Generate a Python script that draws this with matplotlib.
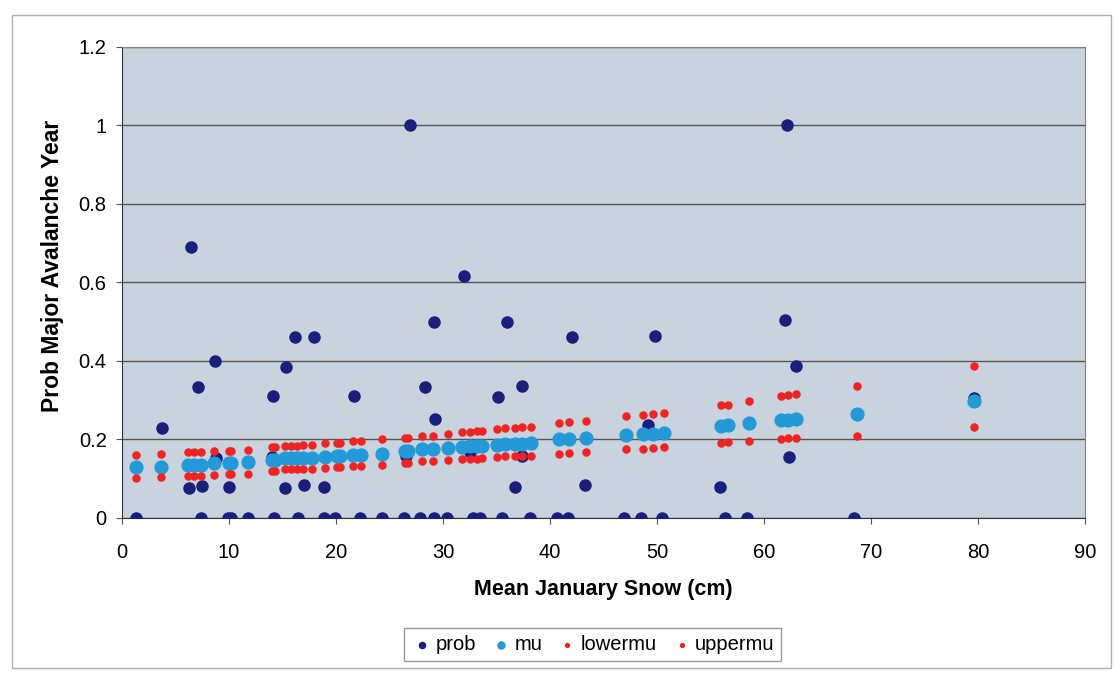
import matplotlib.pyplot as plt
from matplotlib.patches import Rectangle

plt.rcParams['font.family'] = ['Liberation Sans', 'DejaVu Sans']

# observed probability of a major avalanche year at each site
prob_x = [1.31, 7.41, 9.94, 10.23, 11.82, 14.17, 16.42, 18.86, 19.89, 22.23, 24.30, 26.36,
          27.86, 29.18, 30.39, 32.83, 33.49, 35.55, 38.09, 40.62, 41.65, 46.90, 48.50,
          50.47, 56.38, 58.44, 68.39,
          3.75, 6.47, 6.29, 7.13, 7.44, 8.72, 8.82, 10.04, 14.07, 13.98, 15.20, 15.29,
          16.14, 16.98, 17.92, 18.86, 21.67, 26.55, 26.92, 28.33, 29.27, 29.17, 31.99,
          32.55, 35.18, 36.02, 37.43, 37.43, 36.77, 42.03, 43.25, 49.16, 49.81, 55.91,
          62.00, 62.20, 63.04, 62.38, 79.64]
prob_y = [0] * 27 + [
          0.23, 0.69, 0.076, 0.333, 0.082, 0.40, 0.154, 0.08, 0.31, 0.156, 0.077, 0.385,
          0.462, 0.084, 0.462, 0.078, 0.311, 0.158, 1.0, 0.335, 0.251, 0.50, 0.616,
          0.168, 0.308, 0.50, 0.336, 0.157, 0.078, 0.461, 0.084, 0.236, 0.464, 0.078,
          0.505, 1.0, 0.386, 0.155, 0.305]

# fitted mean and its lower / upper bounds
mu_x = [1.31, 3.66, 6.19, 6.75, 7.41, 8.63, 10.04, 10.23, 11.82, 13.98, 14.26, 15.20,
        15.76, 16.32, 16.89, 17.73, 18.95, 20.08, 20.36, 21.58, 22.33, 24.30, 26.45,
        26.74, 28.05, 29.08, 30.49, 31.80, 32.55, 33.21, 33.68, 35.08, 35.83, 36.77,
        37.43, 38.27, 40.81, 41.74, 43.34, 47.09, 48.69, 49.62, 50.66, 56.00, 56.66,
        58.63, 61.63, 62.29, 63.04, 68.67, 79.64]
mu = [0.131, 0.131, 0.134, 0.134, 0.135, 0.139, 0.139, 0.140, 0.142, 0.148, 0.148, 0.152,
      0.152, 0.153, 0.153, 0.154, 0.155, 0.157, 0.157, 0.160, 0.161, 0.163, 0.170,
      0.171, 0.176, 0.176, 0.178, 0.182, 0.183, 0.183, 0.184, 0.187, 0.188, 0.189,
      0.189, 0.190, 0.200, 0.202, 0.204, 0.211, 0.213, 0.214, 0.216, 0.235, 0.236,
      0.241, 0.249, 0.250, 0.251, 0.265, 0.299]
lowermu = [0.101, 0.105, 0.107, 0.107, 0.108, 0.110, 0.111, 0.111, 0.113, 0.120, 0.120, 0.124,
           0.125, 0.125, 0.126, 0.126, 0.127, 0.129, 0.129, 0.132, 0.132, 0.135, 0.141,
           0.141, 0.144, 0.144, 0.147, 0.150, 0.151, 0.151, 0.152, 0.156, 0.157, 0.157,
           0.158, 0.158, 0.164, 0.166, 0.168, 0.175, 0.177, 0.178, 0.180, 0.192, 0.193,
           0.196, 0.202, 0.203, 0.204, 0.210, 0.232]
uppermu = [0.161, 0.163, 0.167, 0.167, 0.168, 0.170, 0.171, 0.171, 0.173, 0.180, 0.180, 0.183,
           0.184, 0.184, 0.185, 0.186, 0.190, 0.191, 0.191, 0.195, 0.195, 0.200, 0.205,
           0.205, 0.208, 0.208, 0.213, 0.219, 0.220, 0.221, 0.222, 0.228, 0.229, 0.230,
           0.231, 0.232, 0.243, 0.245, 0.248, 0.259, 0.263, 0.265, 0.268, 0.287, 0.289,
           0.298, 0.311, 0.313, 0.315, 0.336, 0.388]

fig = plt.figure(figsize=(11.15, 6.75), dpi=100)
ax = fig.add_axes([0.1094, 0.2326, 0.8636, 0.6978])
ax.set_facecolor('#c9d3de')

# chart outline
fig.patches.append(Rectangle((0.011, 0.01), 0.985, 0.968, transform=fig.transFigure,
                             fill=False, edgecolor='#b0b0b0', linewidth=1))

ax.scatter(prob_x, prob_y, s=64, color='#1b1f7c', label='prob', zorder=3)
ax.scatter(mu_x, mu, s=85, color='#2399d8', label='mu', zorder=4)
ax.scatter(mu_x, lowermu, s=26, color='#ee2424', label='lowermu', zorder=4)
ax.scatter(mu_x, uppermu, s=26, color='#ee2424', label='uppermu', zorder=4)

ax.set_xlim(0, 90)
ax.set_ylim(0, 1.2)
ax.set_xticks(range(0, 91, 10))
ax.set_yticks([0, 0.2, 0.4, 0.6, 0.8, 1.0, 1.2])
ax.set_yticklabels(['0', '0.2', '0.4', '0.6', '0.8', '1', '1.2'])
ax.grid(True, axis='y', color='#555555', linewidth=1)
ax.set_axisbelow(True)
for s in ax.spines.values():
    s.set_color('#808080')
ax.spines['left'].set_color('#333333')
ax.spines['bottom'].set_color('#333333')
ax.tick_params(labelsize=14.5, length=4, color='#555555')
ax.tick_params(axis='x', pad=14)
ax.tick_params(axis='y', pad=7)

ax.set_xlabel('Mean January Snow (cm)', fontsize=15.5, fontweight='bold', labelpad=12)
ax.set_ylabel('Prob Major Avalanche Year', fontsize=16.5, fontweight='bold')
ax.yaxis.set_label_coords(-0.06, 0.535)

leg = ax.legend(loc='upper center', bbox_to_anchor=(0.489, -0.213), ncol=4, fontsize=14.5,
                frameon=True, fancybox=False, edgecolor='#808080', markerscale=0.55,
                handletextpad=0.1, columnspacing=0.7, borderpad=0.35, handlelength=1.1)
leg.get_frame().set_linewidth(1)

plt.savefig('out.png')
